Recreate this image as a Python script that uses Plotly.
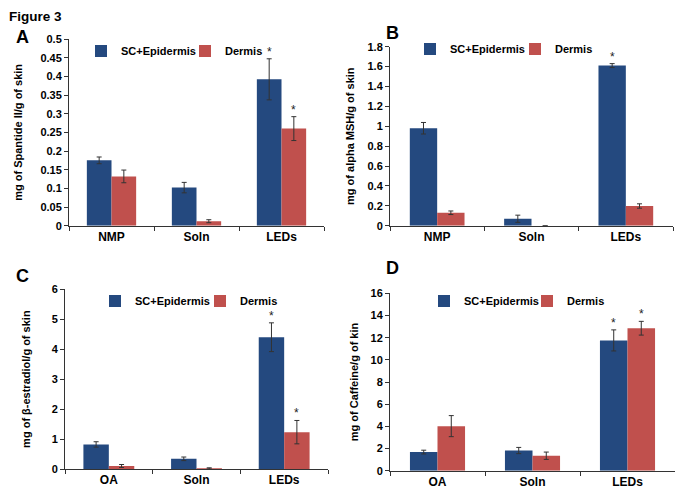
import plotly.graph_objects as go

# ---------------- data ----------------
cats_AB = ["NMP", "Soln", "LEDs"]
cats_CD = ["OA", "Soln", "LEDs"]
series_names = ["SC+Epidermis", "Dermis"]

A_epi = [0.175, 0.102, 0.392]
A_epi_err = [0.009, 0.014, 0.055]
A_der = [0.132, 0.012, 0.260]
A_der_err = [0.017, 0.004, 0.032]
A_star_epi = [False, False, True]
A_star_der = [False, False, True]

B_epi = [0.98, 0.07, 1.61]
B_epi_err = [0.058, 0.036, 0.02]
B_der = [0.13, 0.0, 0.198]
B_der_err = [0.018, 0.0, 0.022]
B_star_epi = [False, False, True]
B_star_der = [False, False, False]

C_epi = [0.82, 0.34, 4.40]
C_epi_err = [0.09, 0.06, 0.48]
C_der = [0.10, 0.02, 1.23]
C_der_err = [0.05, 0.02, 0.39]
C_star_epi = [False, False, True]
C_star_der = [False, False, True]

D_epi = [1.68, 1.82, 11.75]
D_epi_err = [0.17, 0.28, 0.95]
D_der = [4.02, 1.35, 12.85]
D_der_err = [0.95, 0.33, 0.62]
D_star_epi = [False, False, True]
D_star_der = [False, False, True]

ytitles = ["mg of Spantide II/g of skin", "mg of alpha MSH/g of skin",
           "mg of β-estradiol/g of skin", "mg of Caffeine/g of kin"]
yranges = [(0, 0.5, 0.05), (0, 1.8, 0.2), (0, 6, 1), (0, 16, 2)]
panel_letters = ["A", "B", "C", "D"]

# ---------------- style ----------------
# the page body has an 8px margin, so the figure is drawn 8px in from the
# window's top-left corner; positions below are given in window pixels.
OFF = 8
W, H = 683 - OFF, 495 - OFF
BLUE = "#24497f"
RED = "#c0504d"
FONT = "Liberation Sans, Arial, sans-serif"

def sx(p):
    return (p - OFF) / W

def sy(p):
    return 1 - (p - OFF) / H

domains = [
    ([sx(69), sx(324)], [sy(225.7), sy(39)]),
    ([sx(390), sx(673)], [sy(225.7), sy(46.7)]),
    ([sx(65), sx(328)], [sy(469), sy(289.3)]),
    ([sx(390), sx(675)], [sy(470.7), sy(293.3)]),
]

panels = [
    (cats_AB, A_epi, A_epi_err, A_der, A_der_err, A_star_epi, A_star_der),
    (cats_AB, B_epi, B_epi_err, B_der, B_der_err, B_star_epi, B_star_der),
    (cats_CD, C_epi, C_epi_err, C_der, C_der_err, C_star_epi, C_star_der),
    (cats_CD, D_epi, D_epi_err, D_der, D_der_err, D_star_epi, D_star_der),
]

legend_pos = [(81, 51), (410, 49), (95, 301), (424, 301)]
legend_entry = [59, 60, 60, 58]
title_standoff = [15, 10, 18, 9]

BARGAP = 0.42
half = (1 - BARGAP) / 4.0  # offset of bar centre from category centre

fig = go.Figure()
annotations = []
layout = {}

for i, (cats, epi, epi_e, der, der_e, s_epi, s_der) in enumerate(panels):
    n = i + 1
    xa = "x" if n == 1 else f"x{n}"
    ya = "y" if n == 1 else f"y{n}"
    lg = "legend" if n == 1 else f"legend{n}"
    for name, vals, errs, col in [(series_names[0], epi, epi_e, BLUE),
                                  (series_names[1], der, der_e, RED)]:
        fig.add_trace(go.Bar(
            x=cats, y=vals, name=name, marker_color=col,
            marker_line_width=0,
            error_y=dict(type="data", array=errs, visible=True,
                         color="#333333", thickness=1, width=2.5),
            xaxis=xa, yaxis=ya, legend=lg,
        ))
    # significance stars
    for j in range(len(cats)):
        for flag, vals, errs, sign in [(s_epi, epi, epi_e, -1), (s_der, der, der_e, 1)]:
            if flag[j]:
                annotations.append(dict(
                    x=j + sign * half, y=vals[j] + errs[j], xref=xa, yref=ya,
                    text="*", showarrow=False, yanchor="bottom", yshift=-2,
                    font=dict(family=FONT, size=12, color="#222")))
    xd, yd = domains[i]
    r0, r1, dt = yranges[i]
    key = "" if n == 1 else str(n)
    layout["xaxis" + key] = dict(
        domain=xd, anchor=ya, type="category", showline=True, linecolor="#333",
        linewidth=1, ticks="outside", tickson="boundaries", ticklen=4,
        tickcolor="#333", showgrid=False, zeroline=False, automargin=False,
        tickfont=dict(family=FONT, size=12, color="black", weight="bold"))
    layout["yaxis" + key] = dict(
        domain=yd, anchor=xa, range=[r0, r1], dtick=dt, tick0=0,
        showline=True, linecolor="#333", linewidth=1, ticks="outside",
        ticklen=4, tickcolor="#333", showgrid=False, zeroline=False,
        automargin=False,
        tickfont=dict(family=FONT, size=11, color="black", weight="bold"),
        title=dict(text=ytitles[i], standoff=title_standoff[i],
                   font=dict(family=FONT, size=11, color="black", weight="bold")))
    lx, ly = legend_pos[i]
    layout[lg] = dict(
        x=sx(lx), y=sy(ly), xanchor="left", yanchor="middle",
        orientation="h", bgcolor="rgba(0,0,0,0)", itemclick=False,
        entrywidth=legend_entry[i], entrywidthmode="pixels",
        tracegroupgap=0,
        font=dict(family=FONT, size=11, color="black", weight="bold"))

# panel letters and figure title
annotations.append(dict(x=0, y=1, xref="paper", yref="paper",
                        text="<b>Figure 3</b>", showarrow=False, xanchor="left",
                        yanchor="top", borderpad=0,
                        font=dict(family=FONT, size=13.5, color="black")))
letter_pos = [(14, 37), (384, 33), (14, 276), (384, 268)]
for L, (lx, ly) in zip(panel_letters, letter_pos):
    annotations.append(dict(x=sx(lx), y=sy(ly), xref="paper", yref="paper",
                            text=f"<b>{L}</b>", showarrow=False, xanchor="left",
                            yanchor="middle", font=dict(family=FONT, size=18, color="black")))

fig.update_layout(
    width=W, height=H, margin=dict(l=0, r=0, t=0, b=0, autoexpand=False),
    paper_bgcolor="white", plot_bgcolor="white",
    barmode="group", bargap=BARGAP, bargroupgap=0,
    annotations=annotations, showlegend=True,
    font=dict(family=FONT, color="black"),
    **layout)

fig.write_html("out.html")
